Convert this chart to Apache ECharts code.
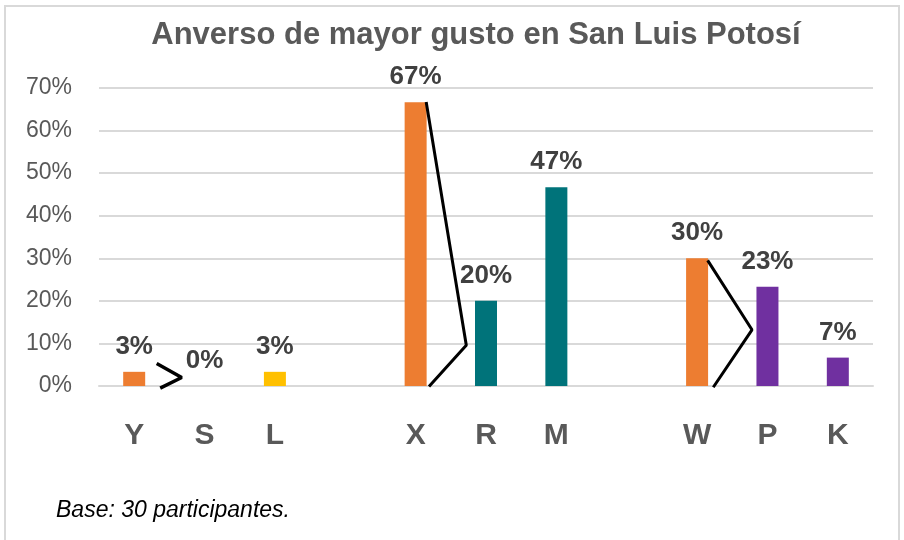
<!DOCTYPE html>
<html>
<head>
<meta charset="utf-8">
<script src="https://cdn.jsdelivr.net/npm/echarts@6/dist/echarts.min.js"></script>
<style>
	html,body{margin:0;padding:0;background:#fff;}
	#chart{width:904px;height:540px;}
</style>
</head>
<body>
<div id="chart"></div>
<script>
// categorias ('' = hueco entre grupos)
var categories = ['Y','S','L','','X','R','M','','W','P','K'];
// porcentaje de participantes
var values = [3.33, 0, 3.33, null, 66.67, 20, 46.67, null, 30, 23.33, 6.67];
var yTicks = [0, 10, 20, 30, 40, 50, 60, 70];

// marcas ">" dibujadas a mano (x en unidades de categoria, y en %)
var bracket1 = [[0.32, 5.3], [0.675, 2.0], [0.37, -0.5]];
var bracket2 = [[4.15, 66.7], [4.72, 9.6], [4.19, -0.1]];
var bracket3 = [[8.15, 29.5], [8.78, 13.2], [8.23, -0.3]];

var COLOR = {
	ORANGE:'#ED7D31',
	YELLOW:'#FFC000',
	TEAL:'#00737A',
	PURPLE:'#7030A0'
};
var barColors = [COLOR.ORANGE, COLOR.ORANGE, COLOR.YELLOW, COLOR.ORANGE,
	COLOR.ORANGE, COLOR.TEAL, COLOR.TEAL, COLOR.ORANGE,
	COLOR.ORANGE, COLOR.PURPLE, COLOR.PURPLE];

function bracketSeries(points, width){
	return {
		type:'line',
		xAxisIndex:1,
		data:points,
		symbol:'none',
		silent:true,
		clip:false,
		z:5,
		lineStyle:{color:'#000', width:width}
	};
}

var myChart = echarts.init(document.getElementById('chart'));
myChart.setOption({
	animation:false,
	backgroundColor:'#fff',
	title:{
		text:'Anverso de mayor gusto en San Luis Potosí',
		left:471,
		top:15,
		textAlign:'center',
		textStyle:{
			color:'#595959',
			fontSize:31,
			fontWeight:'bold',
			fontFamily:'Liberation Sans'
		}
	},
	graphic:[
		{
			type:'rect',
			shape:{x:5, y:6, width:894, height:545},
			style:{fill:'none', stroke:'#D9D9D9', lineWidth:2},
			silent:true
		},
		{
			type:'text',
			left:56,
			top:499,
			style:{
				text:'Base: 30 participantes.',
				fill:'#000',
				font:'italic 23px "Liberation Sans"'
			}
		}
	],
	grid:{
		left:99,
		right:31,
		top:88,
		bottom:154
	},
	xAxis:[
		{
			type:'category',
			data:categories,
			axisTick:{show:false},
			axisLine:{lineStyle:{color:'#D9D9D9', width:2}},
			axisLabel:{
				interval:0,
				margin:35,
				color:'#595959',
				fontSize:30,
				fontWeight:'bold',
				fontFamily:'Liberation Sans'
			}
		},
		{
			type:'value',
			min:-0.5,
			max:10.5,
			show:false
		}
	],
	yAxis:{
		type:'value',
		min:0,
		max:yTicks[yTicks.length-1],
		interval:yTicks[1]-yTicks[0],
		axisLine:{show:false},
		axisTick:{show:false},
		splitLine:{lineStyle:{color:'#D9D9D9', width:2}},
		axisLabel:{
			formatter:'{value}%',
			margin:27,
			color:'#595959',
			fontSize:23,
			fontFamily:'Liberation Sans'
		}
	},
	series:[
		{
			type:'bar',
			barWidth:22,
			data:values.map(function(v,i){
				return {value:v, itemStyle:{color:barColors[i]}};
			}),
			label:{
				show:true,
				position:'top',
				distance:12,
				color:'#404040',
				fontSize:26,
				fontWeight:'bold',
				fontFamily:'Liberation Sans',
				formatter:function(p){
					return p.value == null ? '' : Math.round(p.value) + '%';
				}
			}
		},
		bracketSeries(bracket1, 3.5),
		bracketSeries(bracket2, 3),
		bracketSeries(bracket3, 3)
	]
});
</script>
</body>
</html>
